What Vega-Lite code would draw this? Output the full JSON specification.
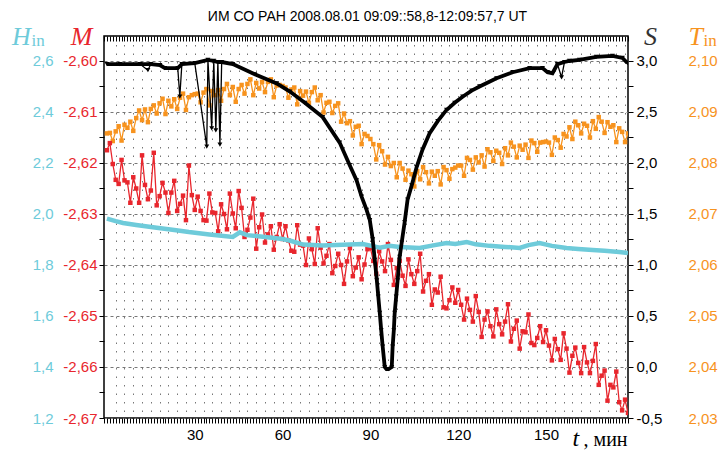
{
  "$schema": "https://vega.github.io/schema/vega-lite/v6.json",
  "width": 524,
  "height": 382,
  "autosize": {"type": "none"},
  "padding": {"left": 104, "top": 36, "right": 95, "bottom": 35},
  "background": "white",
  "config": {
    "view": {"stroke": "black", "strokeWidth": 1.5},
    "axis": {"labelFont": "Liberation Sans", "labelFontSize": 15, "titleFont": "Liberation Serif", "titleFontStyle": "italic", "titleFontWeight": "normal", "titleFontSize": 26, "domain": false, "grid": false, "tickColor": "black"}
  },
  "datasets": {
    "H": [{"t":0,"v":1.982},{"t":3,"v":1.972},{"t":5.5,"v":1.965},{"t":10,"v":1.957},{"t":17,"v":1.946},{"t":23,"v":1.937},{"t":28,"v":1.929},{"t":35,"v":1.92},{"t":43,"v":1.91},{"t":45.4,"v":1.928},{"t":47.8,"v":1.917},{"t":54,"v":1.91},{"t":60,"v":1.902},{"t":63,"v":1.894},{"t":67,"v":1.88},{"t":73.7,"v":1.876},{"t":80.5,"v":1.879},{"t":87.4,"v":1.882},{"t":93.2,"v":1.868},{"t":96.6,"v":1.875},{"t":100,"v":1.871},{"t":106.8,"v":1.867},{"t":111,"v":1.876},{"t":116,"v":1.886},{"t":119,"v":1.882},{"t":122.9,"v":1.89},{"t":126,"v":1.881},{"t":130.7,"v":1.875},{"t":136,"v":1.871},{"t":141,"v":1.867},{"t":144,"v":1.878},{"t":147.8,"v":1.886},{"t":152,"v":1.875},{"t":157,"v":1.867},{"t":161,"v":1.863},{"t":165.9,"v":1.859},{"t":170,"v":1.856},{"t":175,"v":1.851},{"t":178,"v":1.847}],
    "M": [{"t":0,"v":-2.6175},{"t":1,"v":-2.6161},{"t":2,"v":-2.6202},{"t":3,"v":-2.6233},{"t":4,"v":-2.6241},{"t":5,"v":-2.6194},{"t":6,"v":-2.6234},{"t":7,"v":-2.6238},{"t":8,"v":-2.6278},{"t":9,"v":-2.6228},{"t":10,"v":-2.625},{"t":11,"v":-2.6278},{"t":12,"v":-2.6185},{"t":13,"v":-2.6243},{"t":14,"v":-2.6271},{"t":15,"v":-2.6254},{"t":16,"v":-2.618},{"t":17,"v":-2.6283},{"t":18,"v":-2.6265},{"t":19,"v":-2.6239},{"t":20,"v":-2.6258},{"t":21,"v":-2.6298},{"t":22,"v":-2.6258},{"t":23,"v":-2.6235},{"t":24,"v":-2.6294},{"t":25,"v":-2.628},{"t":26,"v":-2.6264},{"t":27,"v":-2.6312},{"t":28,"v":-2.6205},{"t":29,"v":-2.6263},{"t":30,"v":-2.6292},{"t":31,"v":-2.6266},{"t":32,"v":-2.6294},{"t":33,"v":-2.6312},{"t":34,"v":-2.6313},{"t":35,"v":-2.626},{"t":36,"v":-2.6297},{"t":37,"v":-2.6298},{"t":38,"v":-2.6334},{"t":39,"v":-2.6281},{"t":40,"v":-2.63},{"t":41,"v":-2.633},{"t":42,"v":-2.626},{"t":43,"v":-2.6299},{"t":44,"v":-2.6328},{"t":45,"v":-2.6255},{"t":46,"v":-2.6288},{"t":47,"v":-2.6345},{"t":48,"v":-2.6331},{"t":49,"v":-2.6307},{"t":50,"v":-2.627},{"t":51,"v":-2.6368},{"t":52,"v":-2.6326},{"t":53,"v":-2.6301},{"t":54,"v":-2.6356},{"t":55,"v":-2.634},{"t":56,"v":-2.6324},{"t":57,"v":-2.637},{"t":58,"v":-2.6345},{"t":59,"v":-2.632},{"t":60,"v":-2.6349},{"t":61,"v":-2.6324},{"t":62,"v":-2.6352},{"t":63,"v":-2.6372},{"t":64,"v":-2.6374},{"t":65,"v":-2.6322},{"t":66,"v":-2.636},{"t":67,"v":-2.6362},{"t":68,"v":-2.64},{"t":69,"v":-2.6348},{"t":70,"v":-2.6369},{"t":71,"v":-2.6398},{"t":72,"v":-2.6328},{"t":73,"v":-2.6366},{"t":74,"v":-2.6397},{"t":75,"v":-2.6382},{"t":76,"v":-2.6359},{"t":77,"v":-2.6416},{"t":78,"v":-2.6402},{"t":79,"v":-2.6378},{"t":80,"v":-2.64},{"t":81,"v":-2.6437},{"t":82,"v":-2.6393},{"t":83,"v":-2.6367},{"t":84,"v":-2.6422},{"t":85,"v":-2.6405},{"t":86,"v":-2.6385},{"t":87,"v":-2.6428},{"t":88,"v":-2.6399},{"t":89,"v":-2.6369},{"t":90,"v":-2.6367},{"t":91,"v":-2.6392},{"t":92,"v":-2.6417},{"t":93,"v":-2.6373},{"t":94,"v":-2.6393},{"t":95,"v":-2.6412},{"t":96,"v":-2.6359},{"t":97,"v":-2.639},{"t":98,"v":-2.6439},{"t":99,"v":-2.6406},{"t":100,"v":-2.6392},{"t":101,"v":-2.6421},{"t":102,"v":-2.6441},{"t":103,"v":-2.6389},{"t":104,"v":-2.6418},{"t":105,"v":-2.6437},{"t":106,"v":-2.6412},{"t":107,"v":-2.6378},{"t":108,"v":-2.6452},{"t":109,"v":-2.6431},{"t":110,"v":-2.6418},{"t":111,"v":-2.6478},{"t":112,"v":-2.6448},{"t":113,"v":-2.6454},{"t":114,"v":-2.6423},{"t":115,"v":-2.6483},{"t":116,"v":-2.6485},{"t":117,"v":-2.6469},{"t":118,"v":-2.6444},{"t":119,"v":-2.6474},{"t":120,"v":-2.6449},{"t":121,"v":-2.6478},{"t":122,"v":-2.6507},{"t":123,"v":-2.6466},{"t":124,"v":-2.6488},{"t":125,"v":-2.6511},{"t":126,"v":-2.6461},{"t":127,"v":-2.6492},{"t":128,"v":-2.6541},{"t":129,"v":-2.6507},{"t":130,"v":-2.6491},{"t":131,"v":-2.652},{"t":132,"v":-2.654},{"t":133,"v":-2.6487},{"t":134,"v":-2.6516},{"t":135,"v":-2.6536},{"t":136,"v":-2.6511},{"t":137,"v":-2.6477},{"t":138,"v":-2.655},{"t":139,"v":-2.6525},{"t":140,"v":-2.6509},{"t":141,"v":-2.6564},{"t":142,"v":-2.653},{"t":143,"v":-2.6532},{"t":144,"v":-2.6497},{"t":145,"v":-2.6553},{"t":146,"v":-2.6557},{"t":147,"v":-2.6543},{"t":148,"v":-2.652},{"t":149,"v":-2.6551},{"t":150,"v":-2.6528},{"t":151,"v":-2.6558},{"t":152,"v":-2.6587},{"t":153,"v":-2.6545},{"t":154,"v":-2.6565},{"t":155,"v":-2.6586},{"t":156,"v":-2.6534},{"t":157,"v":-2.6564},{"t":158,"v":-2.6611},{"t":159,"v":-2.6578},{"t":160,"v":-2.6562},{"t":161,"v":-2.6592},{"t":162,"v":-2.6612},{"t":163,"v":-2.6561},{"t":164,"v":-2.6591},{"t":165,"v":-2.6612},{"t":166,"v":-2.6588},{"t":167,"v":-2.6555},{"t":168,"v":-2.6635},{"t":169,"v":-2.6617},{"t":170,"v":-2.6607},{"t":171,"v":-2.6666},{"t":172,"v":-2.6635},{"t":173,"v":-2.664},{"t":174,"v":-2.6609},{"t":175,"v":-2.6669},{"t":176,"v":-2.6685},{"t":177,"v":-2.6664},{"t":178,"v":-2.669}],
    "T": [{"t":0,"v":2.0858},{"t":1,"v":2.0859},{"t":2,"v":2.0843},{"t":3,"v":2.0862},{"t":4,"v":2.0872},{"t":5,"v":2.0844},{"t":6,"v":2.0875},{"t":7,"v":2.0869},{"t":8,"v":2.0881},{"t":9,"v":2.0863},{"t":10,"v":2.0888},{"t":11,"v":2.0903},{"t":12,"v":2.0884},{"t":13,"v":2.0905},{"t":14,"v":2.088},{"t":15,"v":2.0906},{"t":16,"v":2.0913},{"t":17,"v":2.0897},{"t":18,"v":2.0917},{"t":19,"v":2.0926},{"t":20,"v":2.0896},{"t":21,"v":2.0922},{"t":22,"v":2.0911},{"t":23,"v":2.0925},{"t":24,"v":2.0906},{"t":25,"v":2.0928},{"t":26,"v":2.0936},{"t":27,"v":2.0904},{"t":28,"v":2.0929},{"t":29,"v":2.0933},{"t":30,"v":2.0935},{"t":31,"v":2.0936},{"t":32,"v":2.0919},{"t":33,"v":2.0938},{"t":34,"v":2.0945},{"t":35,"v":2.0913},{"t":36,"v":2.0941},{"t":37,"v":2.0933},{"t":38,"v":2.0943},{"t":39,"v":2.0922},{"t":40,"v":2.0945},{"t":41,"v":2.0955},{"t":42,"v":2.0933},{"t":43,"v":2.0949},{"t":44,"v":2.092},{"t":45,"v":2.0945},{"t":46,"v":2.0953},{"t":47,"v":2.0936},{"t":48,"v":2.0955},{"t":49,"v":2.0964},{"t":50,"v":2.0933},{"t":51,"v":2.0957},{"t":52,"v":2.0946},{"t":53,"v":2.0959},{"t":54,"v":2.0939},{"t":55,"v":2.0959},{"t":56,"v":2.0964},{"t":57,"v":2.0929},{"t":58,"v":2.0952},{"t":59,"v":2.0953},{"t":60,"v":2.0951},{"t":61,"v":2.0948},{"t":62,"v":2.0928},{"t":63,"v":2.0944},{"t":64,"v":2.0948},{"t":65,"v":2.0915},{"t":66,"v":2.0941},{"t":67,"v":2.0932},{"t":68,"v":2.094},{"t":69,"v":2.0918},{"t":70,"v":2.0939},{"t":71,"v":2.0948},{"t":72,"v":2.0923},{"t":73,"v":2.0933},{"t":74,"v":2.0899},{"t":75,"v":2.0918},{"t":76,"v":2.092},{"t":77,"v":2.0898},{"t":78,"v":2.0912},{"t":79,"v":2.0917},{"t":80,"v":2.0881},{"t":81,"v":2.0897},{"t":82,"v":2.0878},{"t":83,"v":2.0882},{"t":84,"v":2.0854},{"t":85,"v":2.0871},{"t":86,"v":2.0873},{"t":87,"v":2.0837},{"t":88,"v":2.0857},{"t":89,"v":2.0853},{"t":90,"v":2.0847},{"t":91,"v":2.0837},{"t":92,"v":2.0807},{"t":93,"v":2.0835},{"t":94,"v":2.0823},{"t":95,"v":2.0797},{"t":96,"v":2.0812},{"t":97,"v":2.0794},{"t":98,"v":2.08},{"t":99,"v":2.0772},{"t":100,"v":2.08},{"t":101,"v":2.0789},{"t":102,"v":2.0767},{"t":103,"v":2.0785},{"t":104,"v":2.0778},{"t":105,"v":2.0754},{"t":106,"v":2.0784},{"t":107,"v":2.0768},{"t":108,"v":2.0792},{"t":109,"v":2.0782},{"t":110,"v":2.076},{"t":111,"v":2.0783},{"t":112,"v":2.0775},{"t":113,"v":2.0784},{"t":114,"v":2.0758},{"t":115,"v":2.0792},{"t":116,"v":2.0786},{"t":117,"v":2.0769},{"t":118,"v":2.0788},{"t":119,"v":2.0791},{"t":120,"v":2.0795},{"t":121,"v":2.0795},{"t":122,"v":2.0775},{"t":123,"v":2.081},{"t":124,"v":2.0806},{"t":125,"v":2.0787},{"t":126,"v":2.0811},{"t":127,"v":2.0801},{"t":128,"v":2.0815},{"t":129,"v":2.0793},{"t":130,"v":2.0827},{"t":131,"v":2.0821},{"t":132,"v":2.0804},{"t":133,"v":2.0824},{"t":134,"v":2.082},{"t":135,"v":2.0798},{"t":136,"v":2.0829},{"t":137,"v":2.0815},{"t":138,"v":2.084},{"t":139,"v":2.0832},{"t":140,"v":2.0811},{"t":141,"v":2.0834},{"t":142,"v":2.0826},{"t":143,"v":2.0836},{"t":144,"v":2.081},{"t":145,"v":2.0844},{"t":146,"v":2.0839},{"t":147,"v":2.0822},{"t":148,"v":2.084},{"t":149,"v":2.0841},{"t":150,"v":2.0842},{"t":151,"v":2.084},{"t":152,"v":2.0816},{"t":153,"v":2.085},{"t":154,"v":2.0845},{"t":155,"v":2.083},{"t":156,"v":2.0857},{"t":157,"v":2.0852},{"t":158,"v":2.087},{"t":159,"v":2.0847},{"t":160,"v":2.0881},{"t":161,"v":2.0874},{"t":162,"v":2.0858},{"t":163,"v":2.0877},{"t":164,"v":2.0873},{"t":165,"v":2.085},{"t":166,"v":2.0882},{"t":167,"v":2.0867},{"t":168,"v":2.089},{"t":169,"v":2.0881},{"t":170,"v":2.0859},{"t":171,"v":2.088},{"t":172,"v":2.0871},{"t":173,"v":2.0874},{"t":174,"v":2.0841},{"t":175,"v":2.0868},{"t":176,"v":2.0861},{"t":177,"v":2.0841},{"t":178,"v":2.0858}],
    "S": [{"t":0,"v":2.97,"spike":0},{"t":4.4,"v":2.97,"spike":0},{"t":11.3,"v":2.97,"spike":0},{"t":14,"v":2.91,"spike":1},{"t":15,"v":2.97,"spike":0},{"t":18.1,"v":2.96,"spike":0},{"t":19.8,"v":2.93,"spike":0},{"t":24.2,"v":2.93,"spike":0},{"t":24.9,"v":2.65,"spike":1},{"t":25.6,"v":2.97,"spike":0},{"t":30,"v":2.98,"spike":0},{"t":34.1,"v":2.16,"spike":1},{"t":34.5,"v":3.01,"spike":0},{"t":35.8,"v":2.34,"spike":1},{"t":36.5,"v":3.0,"spike":0},{"t":37.2,"v":2.32,"spike":1},{"t":37.9,"v":2.99,"spike":0},{"t":38.6,"v":2.18,"spike":1},{"t":39.2,"v":2.99,"spike":0},{"t":43,"v":2.97,"spike":0},{"t":50.5,"v":2.87,"spike":0},{"t":58,"v":2.78,"spike":0},{"t":62.5,"v":2.7,"spike":0},{"t":67.6,"v":2.59,"spike":0},{"t":73.7,"v":2.45,"spike":0},{"t":79.5,"v":2.2,"spike":0},{"t":82.9,"v":1.98,"spike":0},{"t":85.3,"v":1.83,"spike":0},{"t":87,"v":1.67,"spike":0},{"t":88.7,"v":1.54,"spike":0},{"t":89.8,"v":1.44,"spike":0},{"t":90.8,"v":1.25,"spike":0},{"t":91.5,"v":1.05,"spike":0},{"t":92.2,"v":0.85,"spike":0},{"t":92.7,"v":0.69,"spike":0},{"t":93.2,"v":0.53,"spike":0},{"t":93.7,"v":0.36,"spike":0},{"t":94.2,"v":0.2,"spike":0},{"t":94.9,"v":0.0,"spike":0},{"t":95.5,"v":-0.02,"spike":0},{"t":96.2,"v":-0.02,"spike":0},{"t":97.3,"v":0.0,"spike":0},{"t":97.6,"v":0.2,"spike":0},{"t":98,"v":0.36,"spike":0},{"t":98.3,"v":0.53,"spike":0},{"t":98.8,"v":0.69,"spike":0},{"t":99.3,"v":0.85,"spike":0},{"t":100,"v":1.08,"spike":0},{"t":100.7,"v":1.22,"spike":0},{"t":101.7,"v":1.42,"spike":0},{"t":102.7,"v":1.64,"spike":0},{"t":104.1,"v":1.78,"spike":0},{"t":105.8,"v":1.96,"spike":0},{"t":107.8,"v":2.13,"spike":0},{"t":110.2,"v":2.29,"spike":0},{"t":113,"v":2.41,"spike":0},{"t":116,"v":2.52,"spike":0},{"t":118.8,"v":2.59,"spike":0},{"t":121.5,"v":2.65,"spike":0},{"t":124.6,"v":2.71,"spike":0},{"t":127.3,"v":2.75,"spike":0},{"t":133.1,"v":2.83,"spike":0},{"t":138.6,"v":2.89,"spike":0},{"t":144.4,"v":2.93,"spike":0},{"t":148.8,"v":2.93,"spike":0},{"t":150.5,"v":2.89,"spike":0},{"t":152.2,"v":2.88,"spike":0},{"t":153.9,"v":2.97,"spike":0},{"t":155.3,"v":2.84,"spike":1},{"t":156.3,"v":2.99,"spike":0},{"t":158,"v":3.0,"spike":0},{"t":161.4,"v":3.01,"spike":0},{"t":167.2,"v":3.04,"spike":0},{"t":172.7,"v":3.05,"spike":0},{"t":176.1,"v":3.03,"spike":0},{"t":177.8,"v":2.98,"spike":0}]
  },
  "layer": [
    {
      "data": {"name": "T"},
      "mark": {"type": "line", "color": "#F7931E", "strokeWidth": 1.3, "clip": true, "point": {"shape": "square", "size": 20, "filled": true, "color": "#F7931E"}},
      "encoding": {
        "x": {"field": "t", "type": "quantitative", "scale": {"domain": [-1, 178], "nice": false, "zero": false},
          "axis": {"orient": "bottom", "values": [3,6,9,12,15,18,21,24,27,30,33,36,39,42,45,48,51,54,57,60,63,66,69,72,75,78,81,84,87,90,93,96,99,102,105,108,111,114,117,120,123,126,129,132,135,138,141,144,147,150,153,156,159,162,165,168,171,174,177],
            "grid": true, "gridDash": [1.5, 7], "gridColor": "#777", "gridWidth": 1, "ticks": false, "labels": false, "domain": false,
            "title": "in", "titleX": -73, "titleY": -373, "titleAlign": "left", "titleBaseline": "alphabetic", "titleAngle": 0,
            "titleFont": "Liberation Serif", "titleFontStyle": "normal", "titleFontSize": 17, "titleColor": "#6ECBDA"}},
        "y": {"field": "v", "type": "quantitative", "scale": {"domain": [2.03, 2.1049], "nice": false, "zero": false},
          "axis": {"orient": "right", "offset": 58, "values": [2.03,2.04,2.05,2.06,2.07,2.08,2.09,2.1], "ticks": false, "domain": false,
            "labelColor": "#F7931E", "labelPadding": 2, "labelExpr": "replace(format(datum.value, '.2f'), '.', ',')",
            "title": "T", "titleAngle": 0, "titleX": 2, "titleY": 8, "titleAlign": "left", "titleBaseline": "alphabetic", "titleColor": "#F7931E"}}
      }
    },
    {
      "data": {"name": "M"},
      "mark": {"type": "line", "color": "#E8262D", "strokeWidth": 1.3, "clip": true, "point": {"shape": "square", "size": 20, "filled": true, "color": "#E8262D"}},
      "encoding": {
        "x": {"field": "t", "type": "quantitative", "scale": {"domain": [-1, 178], "nice": false, "zero": false},
          "axis": {"orient": "bottom", "values": [30, 60, 90, 120, 150], "ticks": false, "domain": false, "labelPadding": 9, "labelColor": "black",
            "title": "t", "titleX": 468, "titleY": 27, "titleAlign": "left", "titleBaseline": "alphabetic", "titleAngle": 0, "titleFontSize": 24, "titleColor": "black"}},
        "y": {"field": "v", "type": "quantitative", "scale": {"domain": [-2.67, -2.5951], "nice": false, "zero": false},
          "axis": {"orient": "left", "offset": 0, "values": [-2.67,-2.665,-2.66,-2.655,-2.65,-2.645,-2.64,-2.635,-2.63,-2.625,-2.62,-2.615,-2.61,-2.605,-2.6],
            "tickSize": 5, "tickWidth": 1, "domain": false, "labelColor": "#E8262D", "labelPadding": 2,
            "labelExpr": "abs(round(datum.value*1000)) % 10 == 0 ? '-' + replace(format(abs(datum.value), '.2f'), '.', ',') : ''",
            "title": "M", "titleAngle": 0, "titleX": -23, "titleY": 8, "titleAlign": "center", "titleBaseline": "alphabetic", "titleColor": "#E8262D"}}
      }
    },
    {
      "data": {"name": "H"},
      "mark": {"type": "line", "color": "#6ECBDA", "strokeWidth": 4.5, "clip": true},
      "encoding": {
        "x": {"field": "t", "type": "quantitative", "scale": {"domain": [-1, 178], "nice": false, "zero": false},
          "axis": {"orient": "top", "tickCount": 180, "tickSize": -5, "tickWidth": 1, "labels": false, "domain": false,
            "title": "ИМ СО РАН 2008.08.01 09:09::58,8-12:09:57,7 UT", "titleX": 263, "titleY": -16, "titleAlign": "center", "titleBaseline": "alphabetic", "titleAngle": 0,
            "titleFont": "Liberation Sans", "titleFontStyle": "normal", "titleFontSize": 14, "titleColor": "black"}},
        "y": {"field": "v", "type": "quantitative", "scale": {"domain": [1.2, 2.698], "nice": false, "zero": false},
          "axis": {"orient": "left", "offset": 51, "values": [1.2,1.4,1.6,1.8,2.0,2.2,2.4,2.6], "ticks": false, "domain": false,
            "grid": true, "gridDash": [3, 3], "gridColor": "#777", "gridWidth": 1,
            "labelColor": "#6ECBDA", "labelPadding": 0, "labelExpr": "replace(format(datum.value, '.1f'), '.', ',')",
            "title": "H", "titleAngle": 0, "titleX": -32, "titleY": 8, "titleAlign": "center", "titleBaseline": "alphabetic", "titleColor": "#6ECBDA"}}
      }
    },
    {
      "data": {"name": "S"},
      "mark": {"type": "line", "color": "black", "strokeWidth": 1.3, "clip": true},
      "encoding": {
        "x": {"field": "t", "type": "quantitative", "scale": {"domain": [-1, 178], "nice": false, "zero": false},
          "axis": {"orient": "bottom", "tickCount": 180, "tickSize": 5, "tickWidth": 1, "labels": false, "domain": false,
            "title": "in", "titleX": 599, "titleY": -373, "titleAlign": "left", "titleBaseline": "alphabetic", "titleAngle": 0,
            "titleFont": "Liberation Serif", "titleFontStyle": "normal", "titleFontSize": 17, "titleColor": "#F7931E"}},
        "y": {"field": "v", "type": "quantitative", "scale": {"domain": [-0.5, 3.245], "nice": false, "zero": false},
          "axis": {"orient": "right", "offset": 0, "values": [-0.5,-0.25,0,0.25,0.5,0.75,1,1.25,1.5,1.75,2,2.25,2.5,2.75,3],
            "tickSize": 5, "tickWidth": 1, "domain": false, "labelColor": "black", "labelPadding": 3,
            "labelExpr": "abs(round(datum.value*100)) % 50 == 0 ? (datum.value < 0 ? '-' : '') + replace(format(abs(datum.value), '.1f'), '.', ',') : ''",
            "title": "S", "titleAngle": 0, "titleX": 22, "titleY": 8, "titleAlign": "center", "titleBaseline": "alphabetic", "titleColor": "#333"}}
      }
    },
    {
      "data": {"name": "S"},
      "transform": [{"filter": "datum.spike != 1"}],
      "mark": {"type": "line", "color": "black", "strokeWidth": 3.8, "clip": true},
      "encoding": {
        "x": {"field": "t", "type": "quantitative", "scale": {"domain": [-1, 178], "nice": false, "zero": false},
          "axis": {"orient": "bottom", "values": [], "ticks": false, "labels": false, "domain": false,
            "title": ", мин", "titleX": 479, "titleY": 27, "titleAlign": "left", "titleBaseline": "alphabetic", "titleAngle": 0,
            "titleFont": "Liberation Serif", "titleFontStyle": "normal", "titleFontSize": 20, "titleColor": "black"}},
        "y": {"field": "v", "type": "quantitative", "scale": {"domain": [-0.5, 3.245], "nice": false, "zero": false}, "axis": null}
      }
    },
    {
      "data": {"name": "S"},
      "mark": {"type": "point", "shape": "triangle-down", "size": 24, "filled": true, "color": "black", "opacity": 1, "clip": true},
      "encoding": {
        "x": {"field": "t", "type": "quantitative", "scale": {"domain": [-1, 178], "nice": false, "zero": false}, "axis": null},
        "y": {"field": "v", "type": "quantitative", "scale": {"domain": [-0.5, 3.245], "nice": false, "zero": false}, "axis": null}
      }
    }
  ],
  "resolve": {"scale": {"x": "independent", "y": "independent"}, "axis": {"x": "independent", "y": "independent"}}
}
